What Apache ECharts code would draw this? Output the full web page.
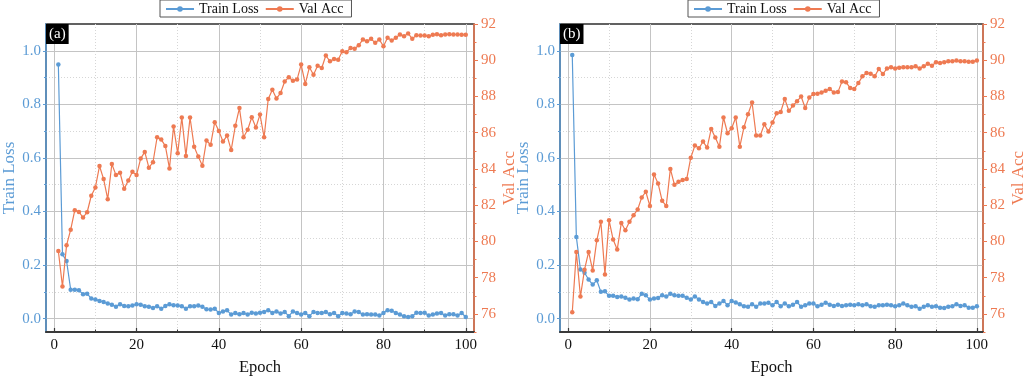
<!DOCTYPE html>
<html>
<head>
<meta charset="utf-8">
<script src="https://cdn.jsdelivr.net/npm/echarts@6/dist/echarts.min.js"></script>
<style>
  html, body { margin: 0; padding: 0; background: #fff; }
  #main { width: 1028px; height: 383px; }
</style>
</head>
<body>
<div id="main"></div>
<script>
// Training curves for two runs: per-epoch training loss and validation accuracy (%)
const epochs = Array.from({ length: 100 }, (_, i) => i + 1);

const lossA = [
  0.949, 0.240, 0.215, 0.108, 0.108, 0.106, 0.091, 0.093, 0.075, 0.071,
  0.066, 0.062, 0.056, 0.052, 0.044, 0.054, 0.047, 0.046, 0.049, 0.054,
  0.052, 0.046, 0.044, 0.040, 0.046, 0.037, 0.047, 0.054, 0.050, 0.049,
  0.046, 0.037, 0.046, 0.046, 0.049, 0.044, 0.035, 0.034, 0.037, 0.021,
  0.027, 0.031, 0.015, 0.021, 0.016, 0.021, 0.015, 0.022, 0.019, 0.022,
  0.025, 0.031, 0.021, 0.027, 0.019, 0.025, 0.009, 0.027, 0.021, 0.015,
  0.021, 0.009, 0.025, 0.021, 0.021, 0.025, 0.016, 0.021, 0.009, 0.021,
  0.019, 0.016, 0.027, 0.025, 0.015, 0.016, 0.015, 0.015, 0.012, 0.021,
  0.031, 0.029, 0.021, 0.015, 0.009, 0.006, 0.009, 0.022, 0.021, 0.022,
  0.012, 0.015, 0.019, 0.021, 0.012, 0.016, 0.016, 0.012, 0.021, 0.006
];
const accA = [
  79.47, 77.51, 79.79, 80.65, 81.72, 81.63, 81.32, 81.61, 82.52, 82.98,
  84.16, 83.44, 82.33, 84.27, 83.66, 83.79, 82.90, 83.36, 83.85, 83.66,
  84.57, 84.94, 84.07, 84.37, 85.75, 85.62, 85.27, 84.03, 86.34, 84.86,
  86.84, 84.72, 86.84, 85.23, 84.68, 84.18, 85.57, 85.33, 86.58, 86.10,
  85.51, 85.84, 85.04, 86.38, 87.36, 85.75, 86.16, 86.85, 86.29, 87.00,
  85.75, 87.86, 88.37, 87.89, 88.19, 88.83, 89.06, 88.87, 88.93, 89.76,
  88.69, 89.61, 89.20, 89.70, 89.57, 90.26, 89.94, 90.07, 90.03, 90.50,
  90.44, 90.68, 90.63, 90.83, 91.14, 91.05, 91.18, 90.96, 91.14, 90.77,
  91.24, 91.09, 91.24, 91.42, 91.33, 91.48, 91.18, 91.38, 91.36, 91.36,
  91.33, 91.40, 91.44, 91.38, 91.42, 91.44, 91.42, 91.42, 91.40, 91.40
];
const lossB = [
  0.984, 0.305, 0.183, 0.171, 0.146, 0.127, 0.143, 0.100, 0.102, 0.085,
  0.085, 0.081, 0.083, 0.078, 0.071, 0.075, 0.072, 0.093, 0.087, 0.071,
  0.075, 0.077, 0.087, 0.083, 0.093, 0.087, 0.085, 0.085, 0.078, 0.071,
  0.083, 0.071, 0.062, 0.056, 0.062, 0.047, 0.056, 0.066, 0.050, 0.066,
  0.060, 0.054, 0.046, 0.044, 0.054, 0.044, 0.056, 0.056, 0.059, 0.050,
  0.062, 0.046, 0.056, 0.046, 0.052, 0.062, 0.044, 0.050, 0.056, 0.056,
  0.046, 0.052, 0.059, 0.052, 0.047, 0.052, 0.047, 0.050, 0.052, 0.050,
  0.054, 0.050, 0.054, 0.046, 0.044, 0.050, 0.050, 0.052, 0.050, 0.046,
  0.050, 0.056, 0.050, 0.044, 0.046, 0.037, 0.044, 0.050, 0.044, 0.046,
  0.041, 0.040, 0.044, 0.046, 0.054, 0.047, 0.050, 0.041, 0.041, 0.046
];
const accB = [
  76.09, 79.42, 76.96, 78.44, 79.42, 78.40, 80.06, 81.08, 78.18, 81.17,
  80.10, 79.55, 81.02, 80.62, 81.08, 81.45, 81.76, 82.43, 82.74, 81.95,
  83.70, 83.20, 82.24, 81.96, 84.00, 83.13, 83.29, 83.39, 83.44, 84.62,
  85.29, 85.14, 85.51, 85.18, 86.21, 85.73, 85.23, 86.84, 85.97, 86.25,
  86.84, 85.23, 86.30, 87.02, 87.67, 85.84, 85.84, 86.47, 86.06, 86.56,
  87.08, 87.14, 87.86, 87.21, 87.50, 87.73, 88.00, 87.36, 87.95, 88.13,
  88.15, 88.22, 88.32, 88.41, 88.22, 88.24, 88.83, 88.78, 88.47, 88.41,
  88.74, 89.11, 89.30, 89.26, 89.11, 89.52, 89.24, 89.54, 89.61, 89.54,
  89.58, 89.61, 89.61, 89.61, 89.67, 89.54, 89.67, 89.80, 89.70, 89.89,
  89.85, 89.89, 89.94, 89.94, 89.98, 89.94, 89.94, 89.92, 89.92, 89.98
];

// Tick positions
const epochTicks = [0, 20, 40, 60, 80, 100];
const epochMinorTicks = [10, 30, 50, 70, 90];
const lossTicks = [0, 0.2, 0.4, 0.6, 0.8, 1.0];
const lossMinorTicks = [0.1, 0.3, 0.5, 0.7, 0.9];
const accTicks = [76, 78, 80, 82, 84, 86, 88, 90, 92];
const accMinorTicks = [75, 77, 79, 81, 83, 85, 87, 89, 91];

const panelTags = ['(a)', '(b)'];
const seriesNames = ['Train Loss', 'Val Acc'];
const xName = 'Epoch';

const FONT = "'Liberation Serif', 'Times New Roman', serif";
const BLUE = '#5b9bd5';
const ORANGE = '#ee7a52';
const AXIS_DARK = '#3a3a3a';
const GRID_MAJOR = '#c4c4c4';
const GRID_MINOR = '#d6d6d6';

const panels = [
  { lossData: lossA, accData: accA, left: 46, width: 428, xMax: 102, legendLeft: 160 },
  { lossData: lossB, accData: accB, left: 560, width: 426, xMax: 101.5, legendLeft: 688 }
];

const option = {
  animation: false,
  backgroundColor: '#fff',
  textStyle: { fontFamily: FONT },
  title: [], legend: [], grid: [], xAxis: [], yAxis: [], series: []
};

panels.forEach((p, gi) => {
  const xBase = gi * 2;
  const yBase = gi * 4;

  option.grid.push({
    left: p.left, top: 24, width: p.width, height: 308,
    show: true, borderColor: '#2e2e2e', borderWidth: 1.4, backgroundColor: 'transparent'
  });

  option.title.push({
    text: panelTags[gi], left: p.left, top: 24,
    backgroundColor: '#000', padding: [3, 3, 2, 3],
    textStyle: { color: '#fff', fontFamily: FONT, fontSize: 15, fontWeight: 'normal' }
  });

  option.legend.push({
    data: seriesNames, left: p.legendLeft, top: 0,
    itemWidth: 28, itemHeight: 7, itemGap: 6,
    padding: [2, 8, 1, 5],
    borderColor: '#555', borderWidth: 1, backgroundColor: '#fff',
    textStyle: { fontFamily: FONT, fontSize: 14, color: '#111' }
  });

  // epoch axis (major ticks + labels + solid grid)
  option.xAxis.push({
    type: 'value', gridIndex: gi, min: -2, max: p.xMax, position: 'bottom',
    name: xName, nameLocation: 'middle', nameGap: 27,
    nameTextStyle: { fontFamily: FONT, fontSize: 16.5, color: '#111' },
    axisLine: { show: true, onZero: false, lineStyle: { color: AXIS_DARK, width: 2 } },
    axisTick: { show: true, inside: true, length: 4, customValues: epochTicks,
      lineStyle: { color: AXIS_DARK, width: 1.2 } },
    axisLabel: { customValues: epochTicks, margin: 6,
      fontFamily: FONT, fontSize: 15, color: '#111' },
    splitLine: { show: true, lineStyle: { color: GRID_MAJOR, width: 1 } }
  });
  // epoch axis (minor ticks + dotted grid)
  option.xAxis.push({
    type: 'value', gridIndex: gi, min: -2, max: p.xMax, position: 'bottom',
    axisLine: { show: false, onZero: false },
    axisTick: { show: true, inside: true, length: 2.5, customValues: epochMinorTicks,
      lineStyle: { color: AXIS_DARK, width: 1 } },
    axisLabel: { show: false },
    splitLine: { show: true, lineStyle: { color: GRID_MINOR, width: 1, type: [1, 2] } }
  });

  // loss axis
  option.yAxis.push({
    type: 'value', gridIndex: gi, min: -0.05, max: 1.1, position: 'left',
    name: seriesNames[0], nameLocation: 'middle', nameGap: 23,
    nameTextStyle: { fontFamily: FONT, fontSize: 17, color: BLUE },
    axisLine: { show: true, onZero: false, lineStyle: { color: BLUE, width: 1.5 } },
    axisTick: { show: true, length: 3, customValues: lossTicks, lineStyle: { color: BLUE, width: 1 } },
    axisLabel: { customValues: lossTicks, margin: 5, fontFamily: FONT, fontSize: 15, color: BLUE,
      formatter: v => v.toFixed(1) },
    splitLine: { show: true, lineStyle: { color: GRID_MAJOR, width: 1 } }
  });
  option.yAxis.push({
    type: 'value', gridIndex: gi, min: -0.05, max: 1.1, position: 'left',
    axisLine: { show: false, onZero: false },
    axisTick: { show: true, length: 2, customValues: lossMinorTicks, lineStyle: { color: BLUE, width: 1 } },
    axisLabel: { show: false },
    splitLine: { show: true, lineStyle: { color: GRID_MINOR, width: 1, type: [1, 2] } }
  });

  // accuracy axis
  option.yAxis.push({
    type: 'value', gridIndex: gi, min: 75, max: 92, position: 'right',
    name: seriesNames[1], nameLocation: 'middle', nameGap: 27,
    nameTextStyle: { fontFamily: FONT, fontSize: 17, color: ORANGE },
    axisLine: { show: true, onZero: false, lineStyle: { color: ORANGE, width: 1.5 } },
    axisTick: { show: true, length: 4, customValues: accTicks, lineStyle: { color: ORANGE, width: 1 } },
    axisLabel: { customValues: accTicks, margin: 7, fontFamily: FONT, fontSize: 15, color: ORANGE },
    splitLine: { show: false }
  });
  option.yAxis.push({
    type: 'value', gridIndex: gi, min: 75, max: 92, position: 'right',
    axisLine: { show: false, onZero: false },
    axisTick: { show: true, length: 2.5, customValues: accMinorTicks, lineStyle: { color: ORANGE, width: 1 } },
    axisLabel: { show: false },
    splitLine: { show: false }
  });

  option.series.push({
    name: seriesNames[0], type: 'line',
    xAxisIndex: xBase, yAxisIndex: yBase,
    data: epochs.map((e, i) => [e, p.lossData[i]]),
    symbol: 'circle', symbolSize: 4.5, showSymbol: true,
    lineStyle: { color: BLUE, width: 1.2 },
    itemStyle: { color: BLUE }, z: 3
  });
  option.series.push({
    name: seriesNames[1], type: 'line',
    xAxisIndex: xBase, yAxisIndex: yBase + 2,
    data: epochs.map((e, i) => [e, p.accData[i]]),
    symbol: 'circle', symbolSize: 4.5, showSymbol: true,
    lineStyle: { color: ORANGE, width: 1.2 },
    itemStyle: { color: ORANGE }, z: 4
  });
});

const chart = echarts.init(document.getElementById('main'), null, { renderer: 'canvas' });
chart.setOption(option);
</script>
</body>
</html>
